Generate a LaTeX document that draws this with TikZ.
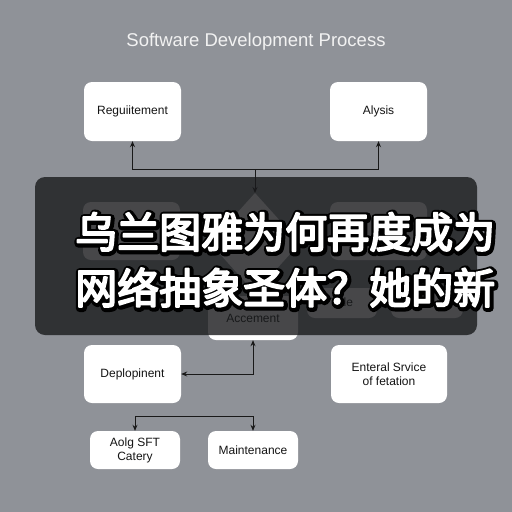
\documentclass[tikz,border=0pt]{standalone}
\usepackage{fontspec}
\setmainfont{Liberation Sans}
\newfontfamily\cjk{Noto Sans CJK SC}
\usetikzlibrary{arrows.meta}
\definecolor{bgc}{RGB}{143,146,152}
\definecolor{ovl}{RGB}{25,26,28}
\definecolor{titlec}{RGB}{242,242,242}
\definecolor{linec}{RGB}{25,25,25}
\newcommand{\strokedtext}[2]{\special{pdf:code 2 Tr #1 w 1 j}#2\special{pdf:code 0 Tr 0.3985 w 0 j}}
\tikzset{
  box/.style={draw=none, fill=white, rounded corners=8pt, align=center, font=\fontsize{12}{14}\selectfont, text=black!92, inner sep=0pt},
  conn/.style={draw=linec, line width=0.9pt, -{Stealth[length=6pt,width=5pt]}},
  bconn/.style={draw=linec, line width=0.9pt, {Stealth[length=6pt,width=5pt]}-{Stealth[length=6pt,width=5pt]}},
  cjkout/.style={anchor=west, inner sep=0pt, text=black, font=\cjk\fontsize{42}{42}\selectfont},
  cjkin/.style={anchor=west, inner sep=0pt, text=white, font=\cjk\fontsize{42}{42}\selectfont},
}
\begin{document}
\begin{tikzpicture}[x=1pt,y=-1pt]
\useasboundingbox (0,0) rectangle (512,512);
\fill[bgc] (0,0) rectangle (512,512);
% title
\node[text=titlec, font=\fontsize{18.5}{21}\selectfont] (title) at (256,42) {Software Development Process};
% top boxes
\node[box, minimum width=97pt, minimum height=59pt] (req) at (132.5,111.5) {Reguiitement};
\node[box, minimum width=97pt, minimum height=59pt] (aly) at (378.5,111.5) {Alysis};
% hidden layer boxes
\node[box, minimum width=97pt, minimum height=58pt] (h1) at (131.5,231) {};
\node[box, minimum width=97pt, minimum height=58pt] (h2) at (378.5,231) {};
\fill[white] (255,193) -- (300,243) -- (255,293) -- (210,243) -- cycle;
\coordinate (dtop) at (255,193);
\node[box, minimum width=90pt, minimum height=44pt] (acc) at (253,318) {\raisebox{-2pt}{Accement}};
\node[box, minimum width=70pt, minimum height=30pt] (tyle) at (342,303) {\raisebox{-5pt}{Tyle}};
\node[box, minimum width=72pt, minimum height=30pt] (h3) at (427,303) {};
% connectors top
\coordinate (J) at (255,169);
\draw[conn] (J) -| (req.south);
\draw[conn] (J) -| (aly.south);
\draw[conn] (J) -- (dtop);
% overlay
\fill[ovl, opacity=0.8, rounded corners=10pt] (35,177) rectangle (477,335);
% Chinese text with outline
\node[cjkout] (sh1) at (75.9,233.1) {\strokedtext{8}{乌兰图雅为何再度成为}};
\node[cjkout] (sh2) at (75.9,288.6) {\strokedtext{8}{网络抽象圣体？她的新}};
\node[cjkin] (cap1) at (75,232) {\strokedtext{1.8}{乌兰图雅为何再度成为}};
\node[cjkin] (cap2) at (75,287.5) {\strokedtext{1.8}{网络抽象圣体？她的新}};
% lower boxes
\node[box, minimum width=97pt, minimum height=58pt] (dep) at (132.5,374) {Deplopinent};
\node[box, minimum width=116pt, minimum height=58pt] (ext) at (389,374) {Enteral Srvice\\of fetation};
\node[box, minimum width=90pt, minimum height=38pt] (aold) at (135,450) {Aolg SFT\\Catery};
\node[box, minimum width=90pt, minimum height=38pt] (maint) at (253,450) {Maintenance};
% lower connectors
\draw[bconn] (dep.east) -| (acc.south);
\draw[bconn] (aold.north) -- ++(0,-14) -| (maint.north);
\end{tikzpicture}
\end{document}
